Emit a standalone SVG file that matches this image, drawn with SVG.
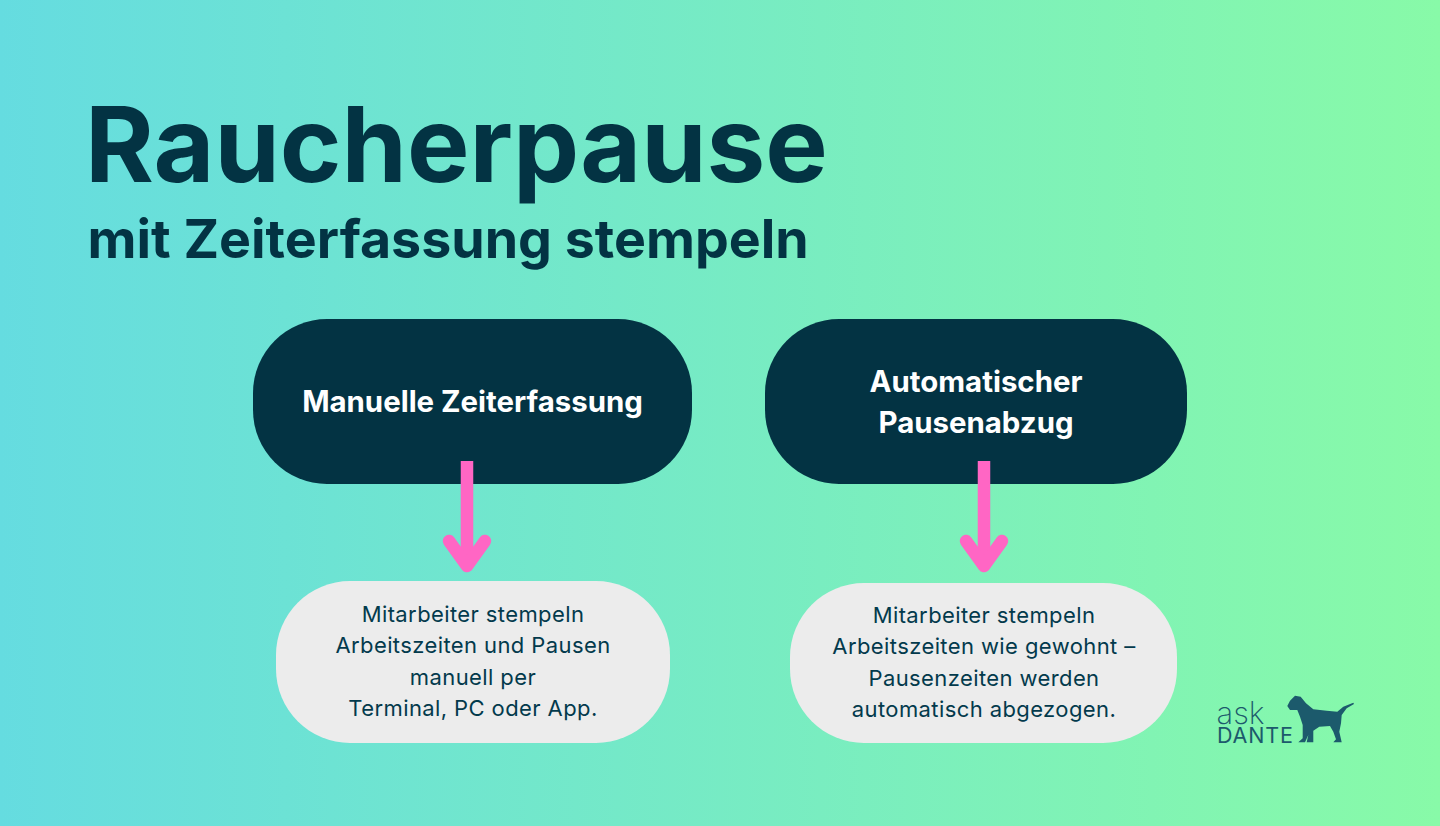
<svg xmlns="http://www.w3.org/2000/svg" width="1440" height="826" viewBox="0 0 1440 826">
<defs><linearGradient id="bg" x1="0" y1="0" x2="1" y2="0"><stop offset="0" stop-color="#65dce0"/><stop offset="1" stop-color="#88faa8"/></linearGradient></defs>
<style>
text{font-family:Inter,"Liberation Sans",sans-serif;text-anchor:middle}
.d{fill:#033343}.l{fill:#ececec}
.h{font-size:29.4px;font-weight:700;fill:#fff}
.b{font-size:22px;fill:#033a4c;letter-spacing:.4px}
.a{fill:none;stroke:#ff66c4;stroke-width:12.5}
</style>
<rect width="1440" height="826" fill="url(#bg)"/>
<text x="85" y="181.5" style="text-anchor:start;font-size:105px;font-weight:700;fill:#033343">Raucherpause</text>
<text x="87.5" y="258" style="text-anchor:start;font-size:53.7px;font-weight:700;fill:#033343">mit Zeiterfassung stempeln</text>
<g id="node-manuell"><rect class="d" x="253" y="319" width="439" height="165" rx="74"/><text class="h" x="472.5" y="412">Manuelle Zeiterfassung</text></g>
<g id="node-auto"><rect class="d" x="765" y="319" width="422" height="165" rx="74"/><text class="h" x="976" y="392">Automatischer</text><text class="h" x="976" y="433">Pausenabzug</text></g>
<g id="node-manuell-info"><rect class="l" x="276" y="581" width="394" height="162" rx="74"/>
<text class="b" x="473" y="622">Mitarbeiter stempeln</text><text class="b" x="473" y="653">Arbeitszeiten und Pausen</text><text class="b" x="473" y="685">manuell per</text><text class="b" x="473" y="716">Terminal, PC oder App.</text></g>
<g id="node-auto-info"><rect class="l" x="790" y="583" width="387" height="160" rx="74"/>
<text class="b" x="984" y="623">Mitarbeiter stempeln</text><text class="b" x="984" y="654">Arbeitszeiten wie gewohnt –</text><text class="b" x="984" y="686">Pausenzeiten werden</text><text class="b" x="984" y="717">automatisch abgezogen.</text></g>
<g id="connectors">
<path class="a" d="M467 461V566"/><path class="a" stroke-linecap="round" stroke-linejoin="round" d="M449 541L467 566L485 541"/>
<path class="a" d="M984 461V566"/><path class="a" stroke-linecap="round" stroke-linejoin="round" d="M966 541L984 566L1002 541"/>
</g>
<g id="logo">
<text x="1216.5" y="724" style="text-anchor:start;font-size:31px;font-weight:200;fill:#1c5a6c">ask</text>
<text x="1217" y="743" style="text-anchor:start;font-size:21.5px;font-weight:400;letter-spacing:.8px;fill:#1c5a6c">DANTE</text>
<path fill="#1c5a6c" d="M1287.3 706L1290 700.7L1295 695.7L1300.7 696.7L1306 703.3L1313.3 709.3L1326.7 710.7L1337.3 711.7L1343.3 706.7L1353.3 702.7L1354 704L1346.7 708.3L1341.7 715L1341 723.3L1339.3 731.7L1341.7 742.3L1333.3 742.3L1336 739.3L1333.3 731.7L1330 726L1319.3 726.7L1313.3 730.7L1313.3 742.3L1306.7 742.3L1308.3 735L1305 742.3L1298.3 742.3L1302.7 738.3L1302.7 725L1300 716.7L1297.3 710L1290 710Z"/>
</g>
</svg>
